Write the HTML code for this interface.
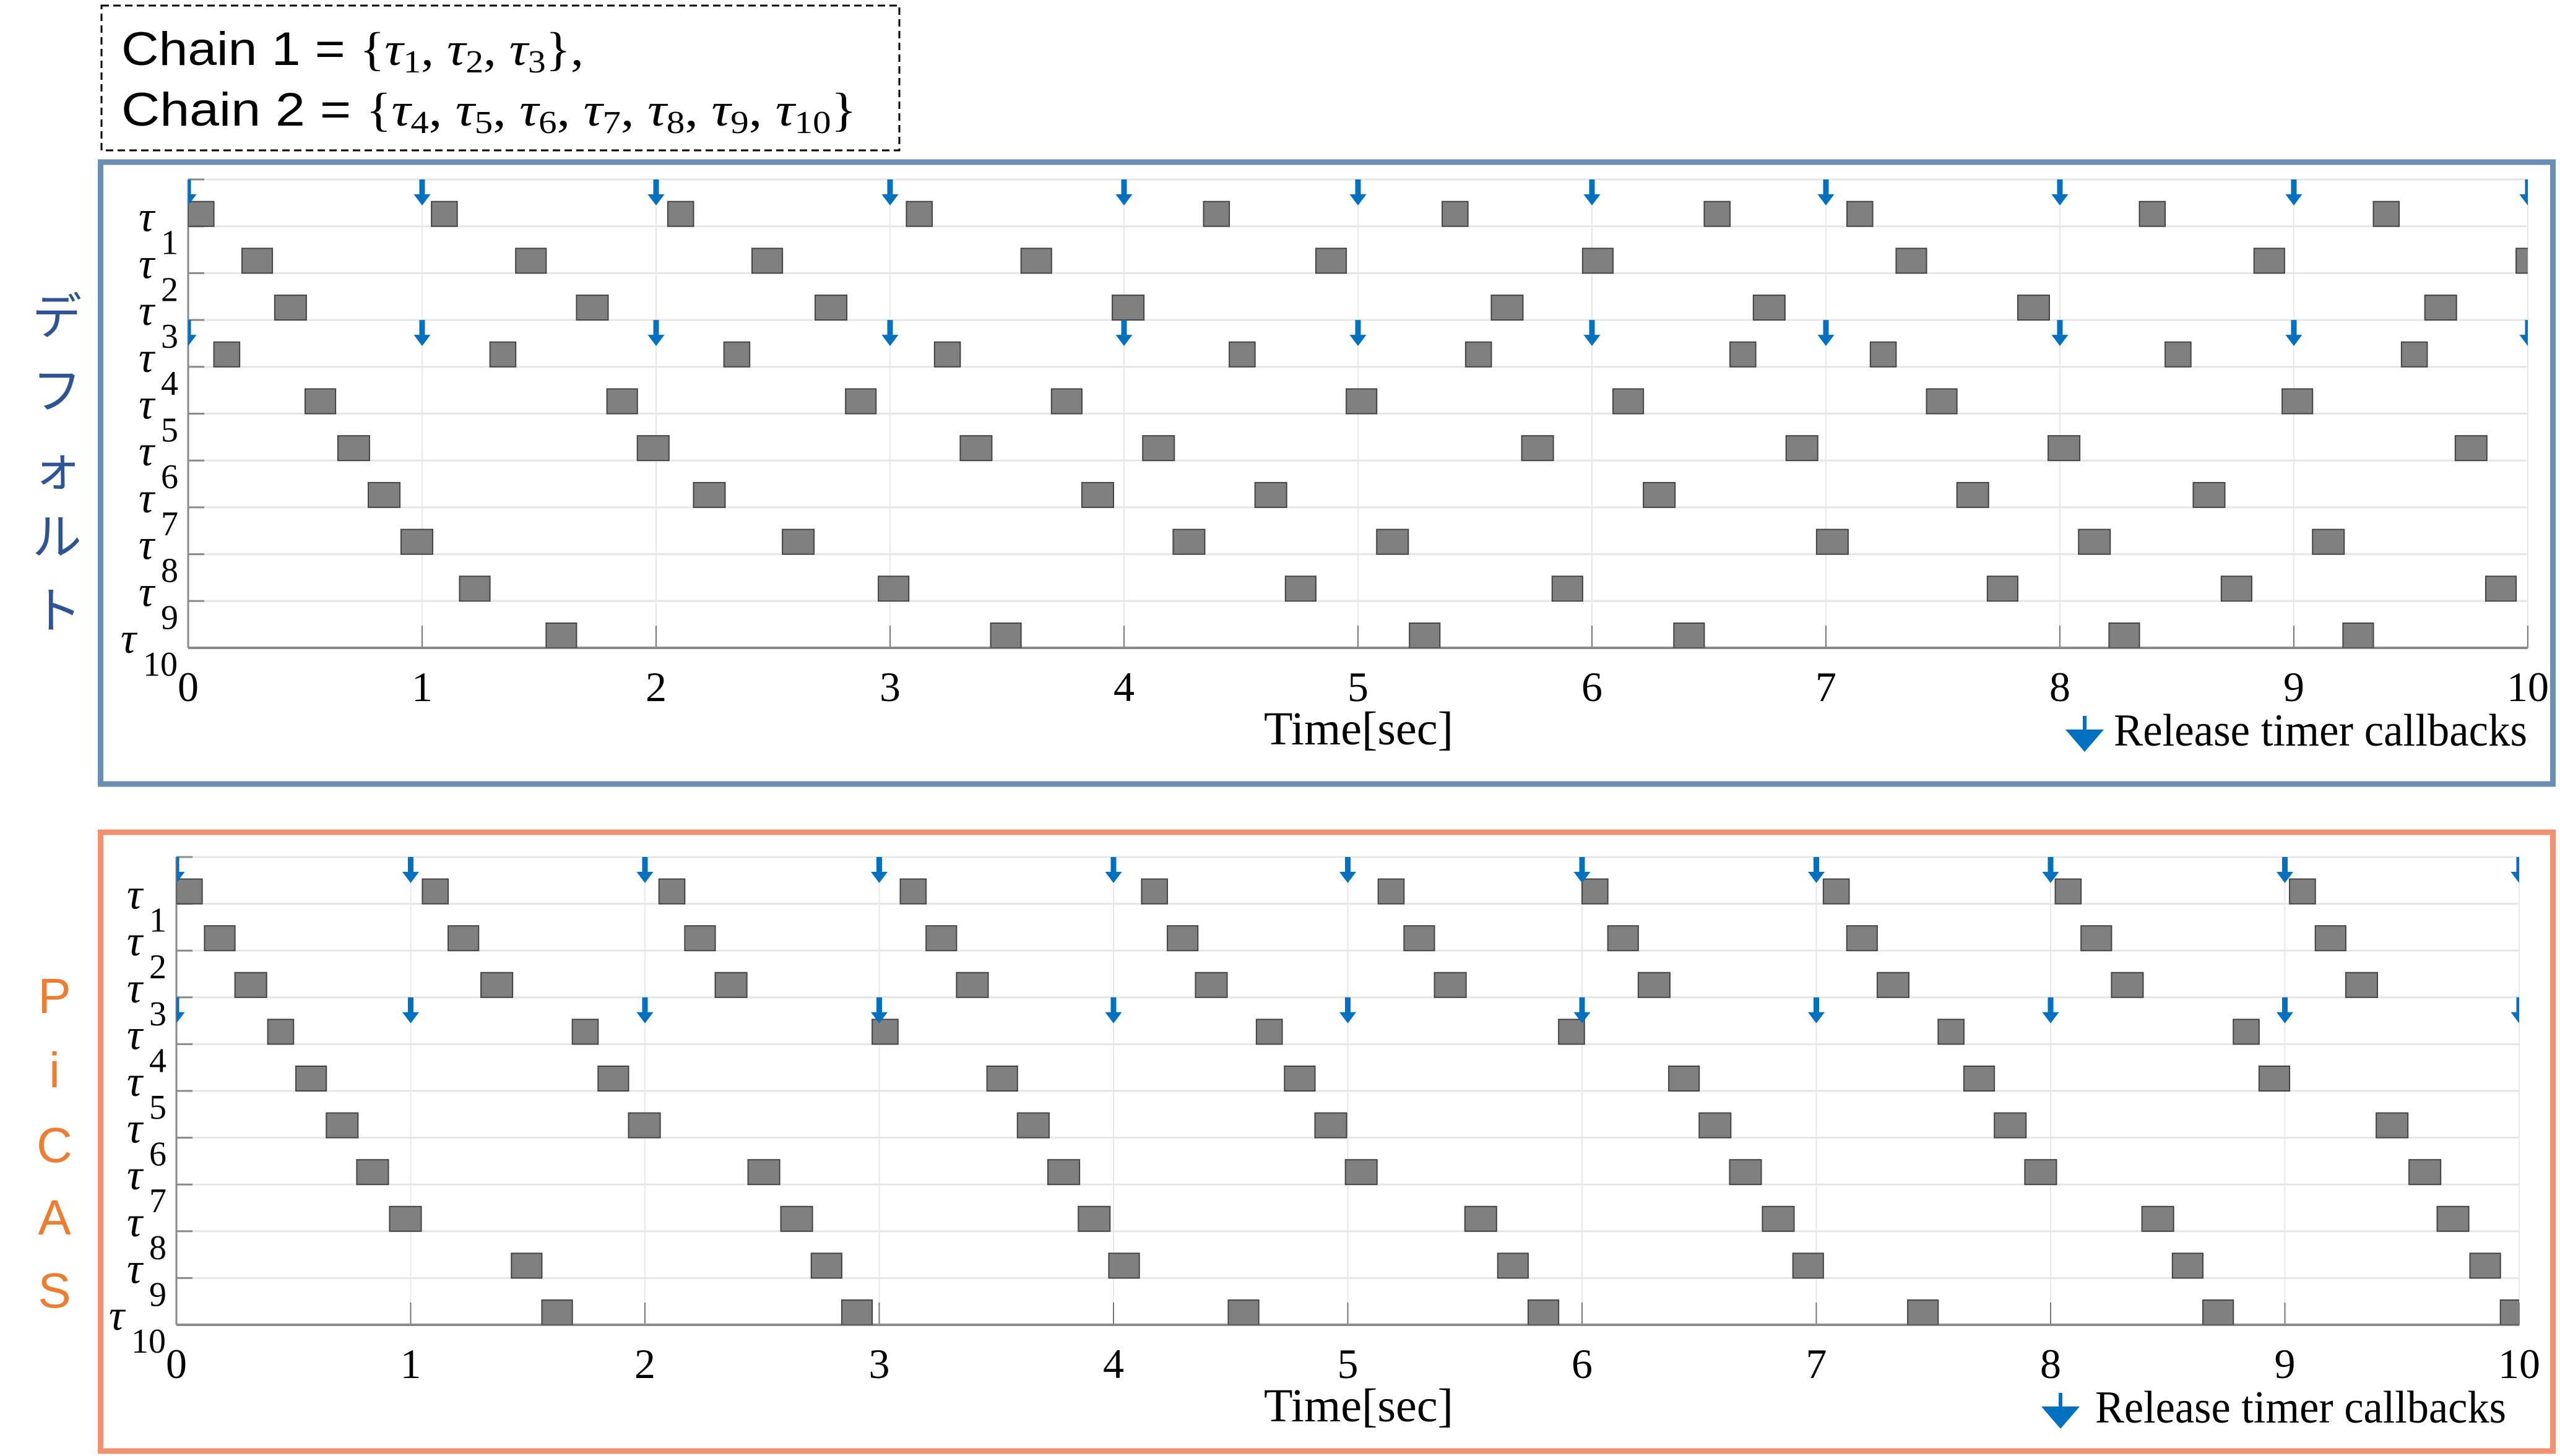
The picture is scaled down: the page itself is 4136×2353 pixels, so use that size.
<!DOCTYPE html>
<html><head><meta charset="utf-8"><style>
html,body{margin:0;padding:0;background:#fff;}
svg{display:block;}
</style></head><body>
<svg id="fig" xmlns="http://www.w3.org/2000/svg" width="4136" height="2353" viewBox="0 0 4136 2353">
<rect x="0" y="0" width="4136" height="2353" fill="#fff"/>
<g>
<rect x="164" y="9" width="1289" height="234" fill="none" stroke="#000" stroke-width="3" stroke-dasharray="12,7"/>
<text x="196" y="105" font-family="Liberation Sans, sans-serif" font-size="76" fill="#000" textLength="747" lengthAdjust="spacingAndGlyphs">Chain 1 = <tspan font-family="Liberation Serif, serif">{<tspan font-style="italic">τ</tspan><tspan font-size="52" dy="12">1</tspan><tspan dy="-12">, </tspan><tspan font-style="italic">τ</tspan><tspan font-size="52" dy="12">2</tspan><tspan dy="-12">, </tspan><tspan font-style="italic">τ</tspan><tspan font-size="52" dy="12">3</tspan><tspan dy="-12">},</tspan></tspan></text>
<text x="196" y="203" font-family="Liberation Sans, sans-serif" font-size="76" fill="#000" textLength="1188" lengthAdjust="spacingAndGlyphs">Chain 2 = <tspan font-family="Liberation Serif, serif">{<tspan font-style="italic">τ</tspan><tspan font-size="52" dy="12">4</tspan><tspan dy="-12">, </tspan><tspan font-style="italic">τ</tspan><tspan font-size="52" dy="12">5</tspan><tspan dy="-12">, </tspan><tspan font-style="italic">τ</tspan><tspan font-size="52" dy="12">6</tspan><tspan dy="-12">, </tspan><tspan font-style="italic">τ</tspan><tspan font-size="52" dy="12">7</tspan><tspan dy="-12">, </tspan><tspan font-style="italic">τ</tspan><tspan font-size="52" dy="12">8</tspan><tspan dy="-12">, </tspan><tspan font-style="italic">τ</tspan><tspan font-size="52" dy="12">9</tspan><tspan dy="-12">, </tspan><tspan font-style="italic">τ</tspan><tspan font-size="52" dy="12">10</tspan><tspan dy="-12">}</tspan></tspan></text>
</g>
<rect x="162.5" y="262" width="3962" height="1005" fill="none" stroke="#6b8eb3" stroke-width="9"/>
<rect x="162.5" y="1345" width="3962" height="1000" fill="none" stroke="#f09171" stroke-width="9"/>
<g font-family="Liberation Sans, 'Noto Sans CJK JP', sans-serif" font-size="80" fill="#2f5496" text-anchor="middle">
<text x="92" y="540">デ</text><text x="92" y="660">フ</text><text x="92" y="785">ォ</text><text x="92" y="896">ル</text><text x="92" y="1015">ト</text>
</g>
<g font-family="Liberation Sans, sans-serif" font-size="80" fill="#ed7d31" text-anchor="middle">
<text x="88" y="1637">P</text><text x="88" y="1757">i</text><text x="88" y="1878">C</text><text x="88" y="1995">A</text><text x="88" y="2113">S</text>
</g>
<g id="charts"></g>
</svg>
<script>
// ---- data ----
const taskNames = ["1","2","3","4","5","6","7","8","9","10"];
const tickLabels = ["0","1","2","3","4","5","6","7","8","9","10"];
const releaseTimes = [0,1,2,3,4,5,6,7,8,9,10];
const chainFirstTasks = [0,3];
const durations = [0.11,0.13,0.135,0.11,0.13,0.135,0.135,0.135,0.13,0.13];
const defaultStarts = [
 [0.00,1.04,2.05,3.07,4.34,5.36,6.48,7.09,8.34,9.34],
 [0.23,1.40,2.41,3.56,4.82,5.96,7.30,8.83,9.95],
 [0.37,1.66,2.68,3.95,5.57,6.69,7.82,9.56],
 [0.11,1.29,2.29,3.19,4.45,5.46,6.59,7.19,8.45,9.46],
 [0.50,1.79,2.81,3.69,4.95,6.09,7.43,8.95],
 [0.64,1.92,3.30,4.08,5.70,6.83,7.95,9.69],
 [0.77,2.16,3.82,4.56,6.22,7.56,8.57],
 [0.91,2.54,4.21,5.08,6.96,8.08,9.08],
 [1.16,2.95,4.69,5.83,7.69,8.69,9.82],
 [1.53,3.43,5.22,6.35,8.21,9.21]
];
const picasStarts = [
 [0.00,1.05,2.06,3.09,4.12,5.13,6.00,7.03,8.02,9.02],
 [0.12,1.16,2.17,3.20,4.23,5.24,6.11,7.13,8.13,9.13],
 [0.25,1.30,2.30,3.33,4.35,5.37,6.24,7.26,8.26,9.26],
 [0.39,1.69,2.97,4.61,5.90,7.52,8.78],
 [0.51,1.80,3.46,4.73,6.37,7.63,8.89],
 [0.64,1.93,3.59,4.86,6.50,7.76,9.39],
 [0.77,2.44,3.72,4.99,6.63,7.89,9.53],
 [0.91,2.58,3.85,5.50,6.77,8.39,9.65],
 [1.43,2.71,3.98,5.64,6.90,8.52,9.79],
 [1.56,2.84,4.49,5.77,7.39,8.65,9.92]
];
const tMax = 10;

const NS = "http://www.w3.org/2000/svg";
const root = document.getElementById("charts");
function mk(tag, attrs, parent){
  const e = document.createElementNS(NS, tag);
  for (const k in attrs) e.setAttribute(k, attrs[k]);
  (parent||root).appendChild(e);
  return e;
}

function drawPanel(id, starts, x0, pxPerSec, gridTop, axisY, legendArrowX, legendTextX, legendTextW){
  const g = mk("g", {});
  
  
  const band = (axisY - gridTop) / taskNames.length;
  const xs = t => x0 + t * pxPerSec;
  const lineY = i => gridTop + (i + 1) * band;
  const x1 = xs(tMax);
  const clipId = id + "-clip";
  const cp = mk("clipPath", {id: clipId}, g);
  mk("rect", {x: x0, y: gridTop - 5, width: x1 - x0, height: axisY - gridTop + 5}, cp);

  for (let i = -1; i < taskNames.length - 1; i++) {
    const y = i < 0 ? gridTop : lineY(i);
    const gl = mk("line", {x1: x0, x2: x1, y1: y, y2: y, stroke: "#e6e6e6", "stroke-width": 3}, g);
    
    
    mk("line", {x1: x0, x2: x0 + 26, y1: y, y2: y, stroke: "#8a8a8a", "stroke-width": 3}, g);
  }
  releaseTimes.forEach(t => {
    if (t === 0) return;
    const vl = mk("line", {x1: xs(t), x2: xs(t), y1: gridTop, y2: axisY, stroke: "#e8e8e8", "stroke-width": 2}, g);
    
    
    mk("line", {x1: xs(t), x2: xs(t), y1: axisY - 36, y2: axisY, stroke: "#777", "stroke-width": 2}, g);
  });
  const ya = mk("line", {x1: x0, x2: x0, y1: gridTop, y2: axisY, stroke: "#8a8a8a", "stroke-width": 3}, g);
  
  
  const xa = mk("line", {x1: x0, x2: x1, y1: axisY, y2: axisY, stroke: "#8a8a8a", "stroke-width": 4}, g);
  
  

  const bg = mk("g", {"clip-path": "url(#" + clipId + ")"}, g);
  starts.forEach((row, i) => {
    row.forEach(s => {
      const bx = xs(s), bw = durations[i] * pxPerSec;
      const by = lineY(i) - 40;
      const r = mk("rect", {x: bx, y: by, width: bw, height: 40, fill: "#808080", stroke: "#444", "stroke-width": 2}, bg);
      
      
    });
  });
  chainFirstTasks.forEach(ti => {
    const top = ti === 0 ? gridTop : lineY(ti - 1);
    releaseTimes.forEach(t => {
      const cx = xs(t);
      const a = mk("path", {d: `M${cx-4.5},${top} h9 v24 h9 l-13.5,18 l-13.5,-18 h9 z`, fill: "#0070c0"}, bg);
      
      
    });
  });

  taskNames.forEach((n, i) => {
    const y = lineY(i);
    const lx = n.length > 1 ? x0 - 109 : x0 - 80;
    const t1 = mk("text", {x: lx, y: y + 8, "font-family": "Liberation Serif, serif", "font-style": "italic", "font-size": 70, fill: "#000"}, g);
    t1.textContent = "τ";
    
    
    const t2 = mk("text", {x: lx + 36, y: y + 45, "font-family": "Liberation Serif, serif", "font-size": 56, fill: "#000"}, g);
    t2.textContent = n;
    
    
  });
  tickLabels.forEach((lab, k) => {
    const tx = mk("text", {x: xs(releaseTimes[k]), y: axisY + 86, "text-anchor": "middle", "font-family": "Liberation Serif, serif", "font-size": 68, fill: "#000"}, g);
    tx.textContent = lab;
    
    
  });
  const xt = mk("text", {x: 2195, y: axisY + 156, "text-anchor": "middle", "font-family": "Liberation Serif, serif", "font-size": 76, fill: "#000", textLength: 306, lengthAdjust: "spacingAndGlyphs"}, g);
  xt.textContent = "Time[sec]";
  
  
  const lg = mk("g", {}, g);
  
  
  const ly = axisY + 110;
  mk("path", {d: `M${legendArrowX-3},${ly} h6 v22 h28 l-31,36 l-31,-36 h28 z`, fill: "#0070c0"}, lg);
  const lt = mk("text", {x: legendTextX, y: axisY + 158, "font-family": "Liberation Serif, serif", "font-size": 74, fill: "#000", textLength: legendTextW, lengthAdjust: "spacingAndGlyphs"}, lg);
  lt.textContent = "Release timer callbacks";
}

drawPanel("default", defaultStarts, 304, 378, 290, 1047, 3368, 3415, 668);
drawPanel("picas", picasStarts, 285, 378.5, 1385, 2141, 3329, 3385, 664);
</script>
</body></html>
